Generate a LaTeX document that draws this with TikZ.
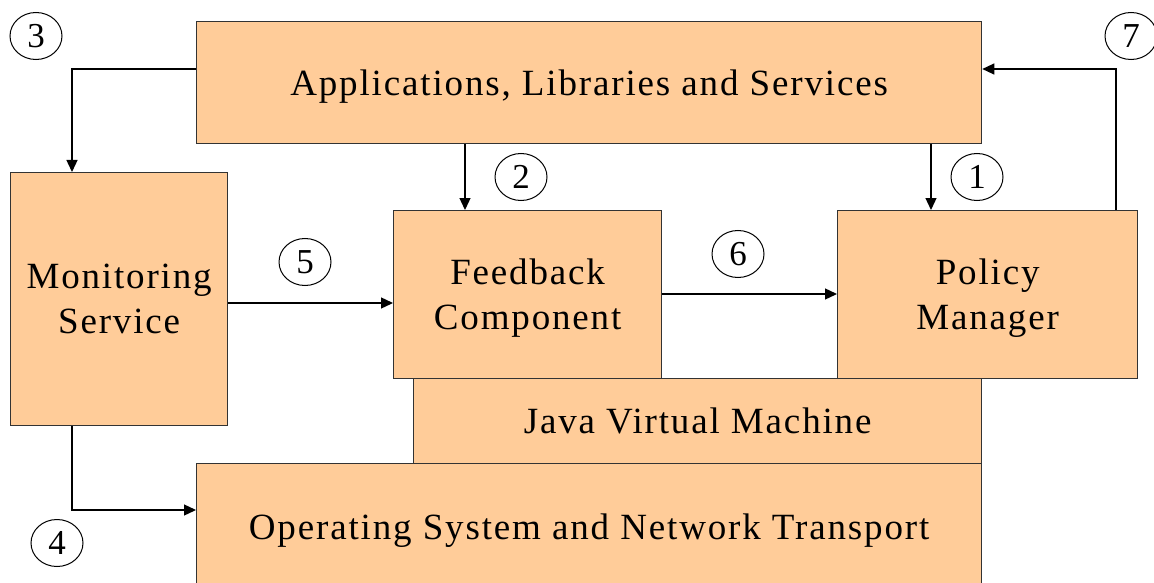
\documentclass[tikz,border=0pt]{standalone}
\usepackage{fontspec}
\setmainfont{Liberation Serif}[LetterSpace=5]
\usetikzlibrary{arrows.meta,shapes.geometric}
\definecolor{boxfill}{HTML}{FFCC99}
\definecolor{boxline}{HTML}{333333}
\tikzset{
  layer/.style={draw=boxline, fill=boxfill, line width=1.3pt, anchor=north west,
    inner sep=0pt, text depth=0pt, align=center, font=\fontsize{37}{45}\selectfont},
  arr/.style={draw=black, line width=1.3pt, -{Triangle[length=12pt,width=11pt]}},
  tag/.style={ellipse, draw=black, line width=1pt, minimum width=52pt,
    minimum height=47pt, inner sep=0pt, font=\fontsize{35}{35}\selectfont}
}
\begin{document}
\begin{tikzpicture}[x=1pt,y=-1pt]
\useasboundingbox (0,0) rectangle (1154,583);
\clip (0,0) rectangle (1154,583);
% layers of the system
\node[layer, minimum width=785pt, minimum height=122pt] (apps) at (196,21)
  {Applications, Libraries and Services};
\node[layer, minimum width=217pt, minimum height=253pt] (mon) at (10,172)
  {Monitoring\\Service};
\node[layer, minimum width=568pt, minimum height=85pt] (jvm) at (413,378)
  {Java Virtual Machine};
\node[layer, minimum width=268pt, minimum height=168pt] (fb) at (393,210)
  {Feedback\\Component};
\node[layer, minimum width=300pt, minimum height=168pt] (pm) at (837,210)
  {Policy\\Manager};
\node[layer, minimum width=785pt, minimum height=126pt] (os) at (196,463)
  {Operating System and Network Transport};
% interactions
\draw[arr] ([yshift=-48pt]apps.north west) -| ([xshift=62pt]mon.north west);
\draw[arr] ([xshift=72pt]fb.north west |- apps.south) -- ([xshift=72pt]fb.north west);
\draw[arr] ([xshift=94pt]pm.north west |- apps.south) -- ([xshift=94pt]pm.north west);
\draw[arr] ([xshift=279pt]pm.north west) |- ([yshift=-48pt]apps.north east);
\draw[arr] ([yshift=-131pt]mon.north east) -- ([yshift=-93pt]fb.north west);
\draw[arr] ([yshift=-84pt]fb.north east) -- ([yshift=-84pt]pm.north west);
\draw[arr] ([xshift=62pt]mon.south west) |- ([yshift=-47pt]os.north west);
% step numbers
\node[tag] (t1) at (977,177) {1};
\node[tag] (t2) at (521,177) {2};
\node[tag] (t3) at (36,36) {3};
\node[tag] (t4) at (57,543) {4};
\node[tag] (t5) at (305,262) {5};
\node[tag] (t6) at (738,254) {6};
\node[tag] (t7) at (1131,36) {7};
\end{tikzpicture}
\end{document}
